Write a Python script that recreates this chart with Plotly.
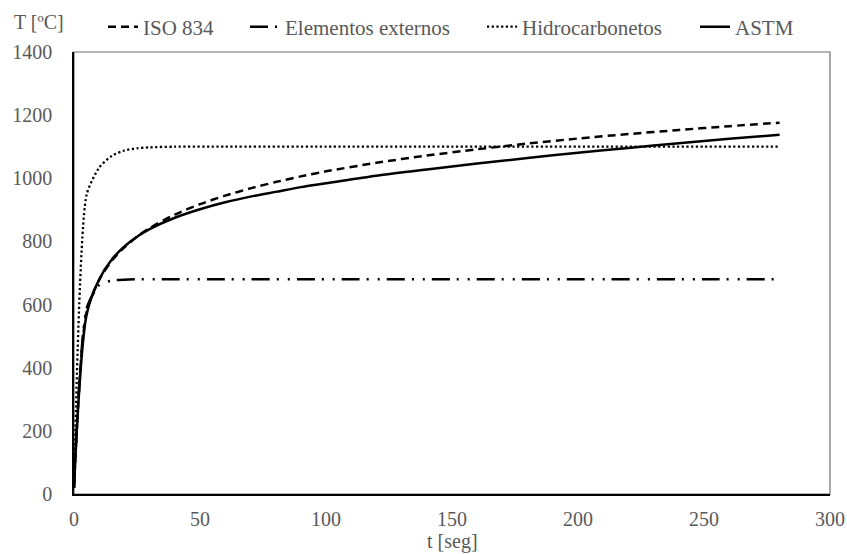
import plotly.graph_objects as go
import plotly.io as pio

pio.templates.default = "none"

# ---- data ----
t_iso = [0, 5, 10, 15, 20, 25, 30, 40, 50, 60, 70, 80, 90, 100, 120, 140, 160, 180, 200, 220, 240, 260, 280]
iso834 = [20, 576, 678, 739, 781, 815, 842, 885, 918, 945, 968, 988, 1006, 1022, 1049, 1072, 1092, 1110, 1126, 1140, 1153, 1165, 1176]

t_ext = [0, 5, 10, 15, 20, 25, 30, 40, 60, 100, 150, 200, 250, 280]
externos = [20, 588, 662, 676, 679, 680, 680, 680, 680, 680, 680, 680, 680, 680]

t_hc = [0, 5, 10, 15, 20, 25, 30, 40, 60, 100, 150, 200, 250, 280]
hidrocarbonetos = [20, 948, 1034, 1071, 1088, 1095, 1098, 1100, 1100, 1100, 1100, 1100, 1100, 1100]

t_astm = [0, 5, 10, 15, 20, 25, 30, 40, 50, 60, 70, 80, 90, 100, 120, 140, 160, 180, 200, 220, 240, 260, 280]
astm = [20, 568, 680, 743, 784, 815, 839, 875, 902, 924, 942, 957, 972, 984, 1008, 1028, 1047, 1064, 1081, 1096, 1111, 1125, 1138]

x_ticks = [0, 50, 100, 150, 200, 250, 300]
y_ticks = [0, 200, 400, 600, 800, 1000, 1200, 1400]

W, H = 847, 554
L, R, T, B = 74, 17, 52, 60
FONT = "Liberation Serif"
GRAY = "#595959"

fig = go.Figure()
fig.add_trace(go.Scatter(x=t_iso, y=iso834, mode="lines", name="ISO 834",
                         line=dict(color="black", width=2.5, dash="8px,5px", shape="spline", smoothing=0.8),
                         legend="legend"))
fig.add_trace(go.Scatter(x=t_ext, y=externos, mode="lines", name="Elementos externos",
                         line=dict(color="black", width=2.5, dash="18px,7px,2px,9px,2px,7px", shape="spline", smoothing=0.6),
                         legend="legend2"))
fig.add_trace(go.Scatter(x=t_hc, y=hidrocarbonetos, mode="lines", name="Hidrocarbonetos",
                         line=dict(color="black", width=2.3, dash="2.2px,2.5px", shape="spline", smoothing=0.6),
                         legend="legend3"))
fig.add_trace(go.Scatter(x=t_astm, y=astm, mode="lines", name="ASTM",
                         line=dict(color="black", width=2.5, shape="spline", smoothing=0.8),
                         legend="legend4"))

def leg(xpx):
    return dict(x=xpx / W, y=1 - 27 / H, xref="container", yref="container",
                xanchor="left", yanchor="middle", orientation="h",
                bgcolor="rgba(0,0,0,0)", borderwidth=0,
                font=dict(family=FONT, size=21, color=GRAY))

fig.update_layout(
    width=W, height=H,
    margin=dict(l=L, r=R, t=T, b=B, autoexpand=False),
    paper_bgcolor="white", plot_bgcolor="white",
    font=dict(family=FONT, size=20, color=GRAY),
    showlegend=True,
    legend=leg(103), legend2=leg(245), legend3=leg(482), legend4=leg(695),
    xaxis=dict(range=[0, 300], tickvals=x_ticks, ticktext=[str(v) for v in x_ticks],
               showgrid=False, zeroline=False, showline=True, linecolor="black", linewidth=1.5,
               ticks="", ticklabelstandoff=6, automargin=False,
               tickfont=dict(family=FONT, size=20, color=GRAY)),
    yaxis=dict(range=[0, 1400], tickvals=y_ticks, ticktext=[str(v) for v in y_ticks],
               showgrid=False, zeroline=False, showline=True, linecolor="black", linewidth=1.5,
               ticks="", ticklabelstandoff=16, automargin=False,
               tickfont=dict(family=FONT, size=20, color=GRAY)),
    shapes=[dict(type="rect", xref="paper", yref="paper", x0=0, y0=0, x1=1, y1=1,
                 line=dict(color="#6f6f6f", width=1.2), layer="below")],
)

pw, ph = W - L - R, H - T - B
fig.add_annotation(text="T [ºC]", xref="paper", yref="paper",
                   x=(39 - L) / pw, y=(H - B - 22) / ph, showarrow=False,
                   xanchor="center", yanchor="middle",
                   font=dict(family=FONT, size=20, color=GRAY))
fig.add_annotation(text="t [seg]", xref="paper", yref="paper",
                   x=(452 - L) / pw, y=(H - B - 541) / ph, showarrow=False,
                   xanchor="center", yanchor="middle",
                   font=dict(family=FONT, size=20, color=GRAY))

fig.write_html("out.html")
